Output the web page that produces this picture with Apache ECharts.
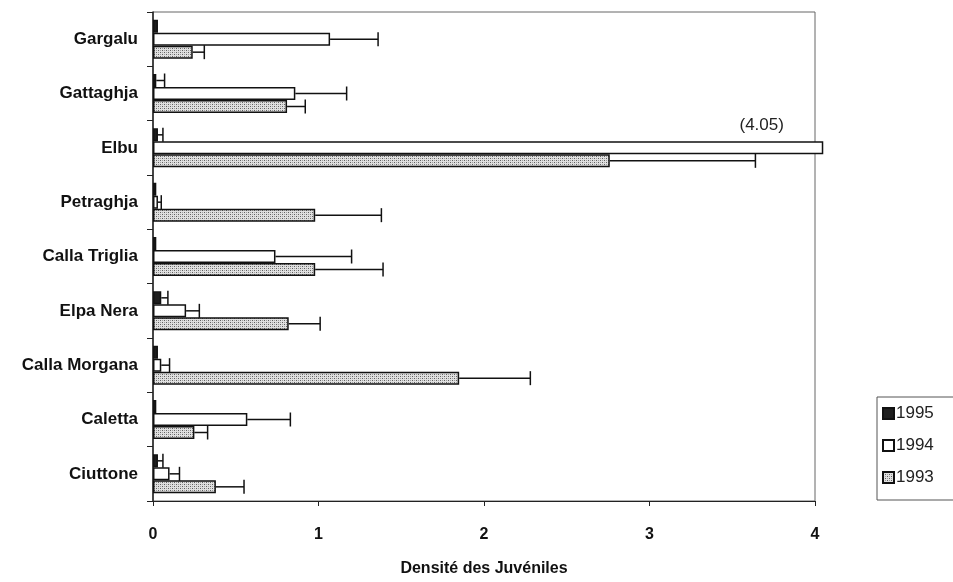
<!DOCTYPE html>
<html>
<head>
<meta charset="utf-8">
<script src="https://cdn.jsdelivr.net/npm/echarts@6/dist/echarts.min.js"></script>
<style>
  html, body { margin: 0; padding: 0; background: #fff; }
  #chart { width: 953px; height: 582px; }
</style>
</head>
<body>
<div id="chart"></div>
<script>
// sites, top to bottom
var sites = ['Gargalu', 'Gattaghja', 'Elbu', 'Petraghja', 'Calla Triglia', 'Elpa Nera', 'Calla Morgana', 'Caletta', 'Ciuttone'];
var years = ['1995', '1994', '1993'];

// mean juvenile density
var d1995 = [0.03, 0.02, 0.03, 0.02, 0.02, 0.05, 0.03, 0.02, 0.03];
var d1994 = [1.07, 0.86, 4.05, 0.03, 0.74, 0.20, 0.05, 0.57, 0.10];
var d1993 = [0.24, 0.81, 2.76, 0.98, 0.98, 0.82, 1.85, 0.25, 0.38];

// upper end of the error bars (null = none drawn)
var e1995 = [null, 0.07, 0.06, null, null, 0.09, null, null, 0.06];
var e1994 = [1.36, 1.17, null, 0.05, 1.20, 0.28, 0.10, 0.83, 0.16];
var e1993 = [0.31, 0.92, 3.64, 1.38, 1.39, 1.01, 2.28, 0.33, 0.55];

var xTicks = [0, 1, 2, 3, 4];

var BAR_W = 13;
var FONT = 'Liberation Sans, Arial';

// stippled fill for 1993
function makeHatch() {
    var c = document.createElement('canvas');
    c.width = 4; c.height = 4;
    var ctx = c.getContext('2d');
    ctx.fillStyle = '#e0e0e0';
    ctx.fillRect(0, 0, 4, 4);
    ctx.fillStyle = '#606060';
    ctx.fillRect(0, 0, 1, 1);
    ctx.fillRect(2, 2, 1, 1);
    ctx.fillStyle = '#a0a0a0';
    ctx.fillRect(2, 0, 1, 1);
    ctx.fillRect(0, 2, 1, 1);
    return c;
}
var hatch = { image: makeHatch(), repeat: 'repeat' };

var values = [d1995, d1994, d1993];
var errs = [e1995, e1994, e1993];
var fills = ['#1e1e1e', '#ffffff', hatch];

var errData = [];
for (var k = 0; k < 3; k++) {
    for (var i = 0; i < sites.length; i++) {
        if (errs[k][i] != null) {
            errData.push([values[k][i], i, errs[k][i], k]);
        }
    }
}

var barSeries = [];
for (var s = 0; s < 3; s++) {
    var data = values[s].slice();
    if (s === 1) {
        // Elbu 1994 runs off the scale
        data[2] = {
            value: values[s][2],
            label: {
                show: true,
                position: ['87.5%', -25],
                formatter: '(' + values[s][2].toFixed(2) + ')',
                fontSize: 17,
                fontFamily: FONT,
                color: '#222'
            }
        };
    }
    barSeries.push({
        name: years[s],
        type: 'bar',
        barWidth: BAR_W,
        barGap: '0%',
        clip: false,
        itemStyle: {
            color: fills[s],
            borderColor: '#111',
            borderWidth: 1.5
        },
        emphasis: { disabled: true },
        data: data
    });
}

var myChart = echarts.init(document.getElementById('chart'));

var option = {
    animation: false,
    backgroundColor: '#fff',
    textStyle: { fontFamily: FONT, color: '#111' },
    grid: {
        left: 153,
        right: 138,
        top: 12,
        bottom: 80,
        show: true,
        borderColor: '#666',
        borderWidth: 1
    },
    legend: {
        data: years,
        orient: 'vertical',
        left: 877,
        top: 397,
        padding: [8, 20, 14, 5],
        itemGap: 15,
        itemWidth: 11,
        itemHeight: 11,
        icon: 'rect',
        borderColor: '#555',
        borderWidth: 1,
        textStyle: { fontSize: 17, color: '#222', padding: [0, 0, 0, -3] }
    },
    xAxis: {
        type: 'value',
        min: 0,
        max: 4,
        interval: 1,
        name: 'Densité des Juvéniles',
        nameLocation: 'middle',
        nameGap: 60,
        nameTextStyle: { fontSize: 16, fontWeight: 'bold', color: '#111' },
        axisLine: { show: true, lineStyle: { color: '#222', width: 1 } },
        axisTick: { show: true, length: 5, lineStyle: { color: '#222' } },
        axisLabel: {
            fontSize: 16,
            fontWeight: 'bold',
            color: '#111',
            margin: 26,
            formatter: function (v) { return xTicks.indexOf(v) >= 0 ? String(v) : ''; }
        },
        splitLine: { show: false }
    },
    yAxis: {
        type: 'category',
        inverse: true,
        data: sites,
        axisLine: { show: true, lineStyle: { color: '#222', width: 1.5 } },
        axisTick: { show: true, length: 6, lineStyle: { color: '#222' } },
        axisLabel: { fontSize: 17, fontWeight: 'bold', color: '#111', margin: 15 },
        splitLine: { show: false }
    },
    series: barSeries.concat([{
        name: 'err',
        type: 'custom',
        z: 5,
        clip: false,
        renderItem: function (params, api) {
            var v = api.value(0), cat = api.value(1), hi = api.value(2), k = api.value(3);
            var p0 = api.coord([v, cat]);
            var p1 = api.coord([hi, cat]);
            var y = p0[1] + (k - 1) * BAR_W;
            var stroke = { stroke: '#111', lineWidth: 1.5 };
            return {
                type: 'group',
                children: [
                    { type: 'line', shape: { x1: p0[0], y1: y, x2: p1[0], y2: y }, style: stroke },
                    { type: 'line', shape: { x1: p1[0], y1: y - 7, x2: p1[0], y2: y + 7 }, style: stroke }
                ]
            };
        },
        encode: { x: 0, y: 1 },
        data: errData
    }])
};

myChart.setOption(option);
</script>
</body>
</html>
